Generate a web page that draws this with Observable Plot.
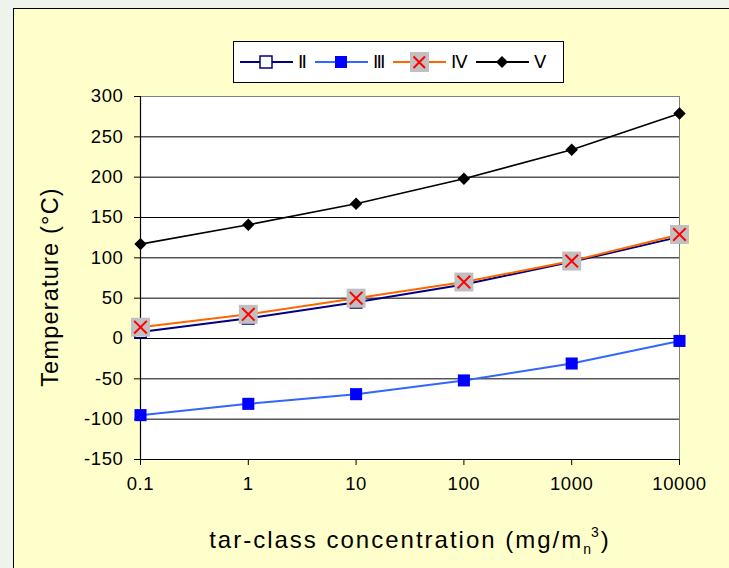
<!DOCTYPE html>
<html><head><meta charset="utf-8">
<script src="https://cdn.jsdelivr.net/npm/d3@7"></script>
<script src="https://cdn.jsdelivr.net/npm/@observablehq/plot@0.6"></script>
<style>
body{margin:0;background:#eef3ec;font-family:"Liberation Sans",Arial,sans-serif;}
#wrap{position:relative;width:729px;height:568px;overflow:hidden;background:#eef3ec;}
#panel{position:absolute;left:13px;top:8px;width:716px;height:560px;background:#ffffcc;border-left:1px solid #000;border-top:1px solid #000;box-sizing:border-box;}
#chart{position:absolute;left:0;top:0;}
#chart svg text{letter-spacing:0.6px;}
#legend{position:absolute;left:233px;top:41px;width:331px;height:42px;background:#fff;border:1px solid #000;box-sizing:border-box;display:flex;align-items:center;padding-left:6px;font-size:18px;}
#legend .item{display:flex;align-items:center;margin-right:8px;}
#legend svg{display:block;margin-right:5px;}
#ylab{position:absolute;left:50px;top:287px;transform:translate(-50%,-50%) rotate(-90deg);font-size:23.5px;letter-spacing:1.2px;white-space:nowrap;}
#xlab{position:absolute;left:410px;top:540px;transform:translate(-50%,-50%);font-size:24px;letter-spacing:2px;white-space:nowrap;}
#xlab sub{font-size:14px;vertical-align:-6px;}
#xlab sup{font-size:14px;vertical-align:11px;margin-left:-2px;}
</style></head>
<body>
<div id="wrap">
  <div id="panel"></div>
  <div id="chart"></div>
  <div id="legend"></div>
  <div id="ylab">Temperature (°C)</div>
  <div id="xlab">tar-class concentration (mg/m<sub>n</sub><sup>3</sup>)</div>
</div>
<script>
const concentration = [0.1, 1, 10, 100, 1000, 10000];
const xTickLabels = ["0.1", "1", "10", "100", "1000", "10000"];
const yTicks = [-150, -100, -50, 0, 50, 100, 150, 200, 250, 300];
const seriesNames = ["Ⅱ", "Ⅲ", "Ⅳ", "Ⅴ"];
const classII  = [8, 25, 45, 67, 95, 126];
const classIII = [-95, -81, -69, -52, -31, -3];
const classIV  = [14, 30, 50, 70, 96, 129];
const classV   = [117, 141, 167, 198, 234, 279];

const rows = (name, vals) => vals.map((v, i) => ({series: name, x: concentration[i], y: v}));
const dII = rows(seriesNames[0], classII);
const dIII = rows(seriesNames[1], classIII);
const dIV = rows(seriesNames[2], classIV);
const dV = rows(seriesNames[3], classV);

const xLabelFor = d => {
  const i = concentration.findIndex(c => Math.abs(Math.log10(c) - Math.log10(d)) < 1e-6);
  return i >= 0 ? xTickLabels[i] : "";
};

const plot = Plot.plot({
  width: 729, height: 568,
  marginLeft: 140, marginRight: 50, marginTop: 96, marginBottom: 109,
  style: {background: "transparent", fontFamily: "Liberation Sans, Arial, sans-serif", fontSize: "18.5px", color: "#000"},
  x: {type: "log", domain: [0.1, 10000]},
  y: {domain: [-150, 300]},
  marks: [
    Plot.frame({fill: "white", stroke: "#808080"}),
    Plot.ruleY(yTicks.filter(t => t > -150 && t < 300), {stroke: "#000", strokeWidth: 1}),
    Plot.ruleY([-150], {stroke: "#000", strokeWidth: 1.2}),
    Plot.ruleX([0.1], {stroke: "#000", strokeWidth: 1.2}),
    Plot.axisY({ticks: yTicks, tickSize: 6, tickPadding: 11, label: null, tickFormat: d => String(d)}),
    Plot.axisX({ticks: concentration, tickSize: 6, tickPadding: 11, label: null, tickFormat: xLabelFor}),
    // II
    Plot.line(dII, {x: "x", y: "y", stroke: "#000080", strokeWidth: 2}),
    Plot.dot(dII, {x: "x", y: "y", symbol: "square", r: 6.5, fill: "white", stroke: "#000080", strokeWidth: 1.5}),
    // III
    Plot.line(dIII, {x: "x", y: "y", stroke: "#3366ff", strokeWidth: 2}),
    Plot.dot(dIII, {x: "x", y: "y", symbol: "square", r: 6.8, fill: "#0000ff", stroke: "none"}),
    // IV
    Plot.line(dIV, {x: "x", y: "y", stroke: "#ff6600", strokeWidth: 2}),
    Plot.dot(dIV, {x: "x", y: "y", symbol: "square", r: 10.7, fill: "#c0c0c0", stroke: "none"}),
    Plot.dot(dIV, {x: "x", y: "y", symbol: "times", r: 5.8, stroke: "#ff0000", strokeWidth: 2}),
    // V
    Plot.line(dV, {x: "x", y: "y", stroke: "#000", strokeWidth: 1.6}),
    Plot.dot(dV, {x: "x", y: "y", symbol: "diamond2", r: 5.6, fill: "#000", stroke: "none"})
  ]
});
document.getElementById("chart").appendChild(plot);

// legend
const legendDefs = [
  {name: seriesNames[0], line: "#000080", marker: `<rect x="20" y="4" width="12" height="12" fill="white" stroke="#000080" stroke-width="1.5"/>`},
  {name: seriesNames[1], line: "#3366ff", marker: `<rect x="20" y="4" width="12" height="12" fill="#0000ff"/>`},
  {name: seriesNames[2], line: "#ff6600", marker: `<rect x="17" y="0" width="19" height="20" fill="#c0c0c0"/><path d="M20.5,4.5L32,16M32,4.5L20.5,16" stroke="#ff0000" stroke-width="2"/>`},
  {name: seriesNames[3], line: "#000", marker: `<path d="M26,4L32,10L26,16L20,10Z" fill="#000"/>`}
];
const leg = document.getElementById("legend");
legendDefs.forEach(d => {
  const it = document.createElement("div");
  it.className = "item";
  it.innerHTML = `<svg width="53" height="20"><line x1="0" x2="53" y1="10" y2="10" stroke="${d.line}" stroke-width="2"/>${d.marker}</svg><span>${d.name}</span>`;
  leg.appendChild(it);
});
</script>
</body></html>
